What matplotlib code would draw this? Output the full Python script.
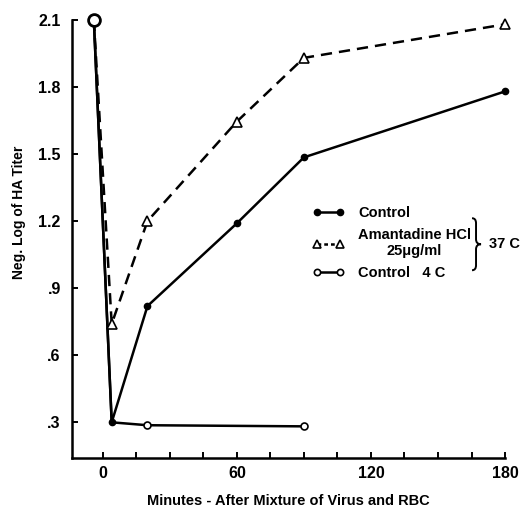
import matplotlib
matplotlib.use('Agg')
import matplotlib.pyplot as plt
from matplotlib.lines import Line2D
from matplotlib.path import Path
from matplotlib.patches import PathPatch
from matplotlib.ticker import MultipleLocator, FixedLocator

# data
t_ctrl = [-4, 4, 20, 60, 90, 180]
y_ctrl = [2.10, 0.30, 0.82, 1.19, 1.485, 1.78]

t_aman = [-4, 4, 20, 60, 90, 180]
y_aman = [2.10, 0.74, 1.20, 1.645, 1.93, 2.08]

t_cold = [-4, 4, 20, 90]
y_cold = [2.10, 0.30, 0.287, 0.282]

yticks = [0.3, 0.6, 0.9, 1.2, 1.5, 1.8, 2.1]
ylabels = ['.3', '.6', '.9', '1.2', '1.5', '1.8', '2.1']
xticks = [0, 60, 120, 180]

plt.rcParams['font.family'] = ['Liberation Sans', 'DejaVu Sans']
plt.rcParams['font.weight'] = 'bold'

fig = plt.figure(figsize=(5.25, 5.09), dpi=100)
ax = fig.add_axes([0.137, 0.1, 0.825, 0.861])

lw = 1.8
# lines
ax.plot(t_ctrl, y_ctrl, '-', color='black', lw=lw, clip_on=False)
ax.plot(t_aman, y_aman, '--', color='black', lw=lw, dashes=(4.5, 2.8),
        clip_on=False)
ax.plot(t_cold, y_cold, '-', color='black', lw=lw, clip_on=False)
# markers (start point is the shared open circle)
ax.plot(t_aman[1:], y_aman[1:], '^', ms=7, mfc='white', mec='black', mew=1.2,
        clip_on=False)
ax.plot(t_cold[2:], y_cold[2:], 'o', ms=5, mfc='white', mec='black', mew=1.2)
ax.plot(t_ctrl[1:], y_ctrl[1:], 'o', ms=4.5, color='black', clip_on=False)
ax.plot(t_cold[:1], y_cold[:1], 'o', ms=8.5, mfc='white', mec='black', mew=2,
        clip_on=False)

ax.set_xlim(-13.8, 180)
ax.set_ylim(0.14, 2.1)
ax.spines['top'].set_visible(False)
ax.spines['right'].set_visible(False)
ax.spines['left'].set_linewidth(1.8)
ax.spines['bottom'].set_linewidth(1.8)

ax.xaxis.set_major_locator(FixedLocator(xticks))
ax.xaxis.set_minor_locator(MultipleLocator(15))
ax.set_yticks(yticks)
ax.set_yticklabels(ylabels)
ax.tick_params(which='both', direction='in', width=1.4, length=4.5,
               labelsize=11.5)
ax.tick_params(axis='x', pad=6)
ax.tick_params(axis='y', pad=8)

ax.set_xlabel('Minutes - After Mixture of Virus and RBC', fontsize=10.5,
              fontweight='bold')
ax.xaxis.set_label_coords(0.5, -0.083)
ax.set_ylabel('Neg. Log of HA Titer', fontsize=10, fontweight='bold')
ax.yaxis.set_label_coords(-0.105, 0.56)

h1 = Line2D([], [], color='black', lw=lw, marker='o', ms=4.5)
h2 = Line2D([], [], color='black', lw=lw, ls='--', dashes=(1.5, 1.2),
            marker='^', ms=6, mfc='white', mew=1.2)
h3 = Line2D([], [], color='black', lw=lw, marker='o', ms=4.5, mfc='white',
            mew=1.2)
leg = ax.legend([h1, h2, h3],
                ['Control', 'Amantadine HCl\n25\u03bcg/ml', 'Control   4 C'],
                loc='upper left', bbox_to_anchor=(0.556, 0.575), frameon=False,
                numpoints=2, handlelength=2.2, handletextpad=0.9,
                labelspacing=0.55, fontsize=10.5, borderaxespad=0, borderpad=0)
for txt in leg.get_texts():
    txt.set_multialignment('center')
    txt.set_fontweight('bold')

# curly brace grouping the two 37 C entries (pixel offsets -> axes fraction)
bw, bh = 433.0, 438.0
cx, cy = 0.933, 0.488
pts = [(-4, 26), (0, 26), (0, 21), (0, 5), (0, 0), (5, 0),
       (0, 0), (0, -5), (0, -21), (0, -26), (-4, -26)]
codes = [Path.MOVETO, Path.CURVE3, Path.CURVE3, Path.LINETO,
         Path.CURVE3, Path.CURVE3, Path.CURVE3, Path.CURVE3,
         Path.LINETO, Path.CURVE3, Path.CURVE3]
verts = [(cx + px / bw, cy + py / bh) for px, py in pts]
ax.add_patch(PathPatch(Path(verts, codes), transform=ax.transAxes,
                       fill=False, lw=1.4, color='black', clip_on=False))
ax.text(0.962, 0.488, '37 C', transform=ax.transAxes, fontsize=10.5,
        fontweight='bold', ha='left', va='center')

fig.savefig('out.png', dpi=100)
